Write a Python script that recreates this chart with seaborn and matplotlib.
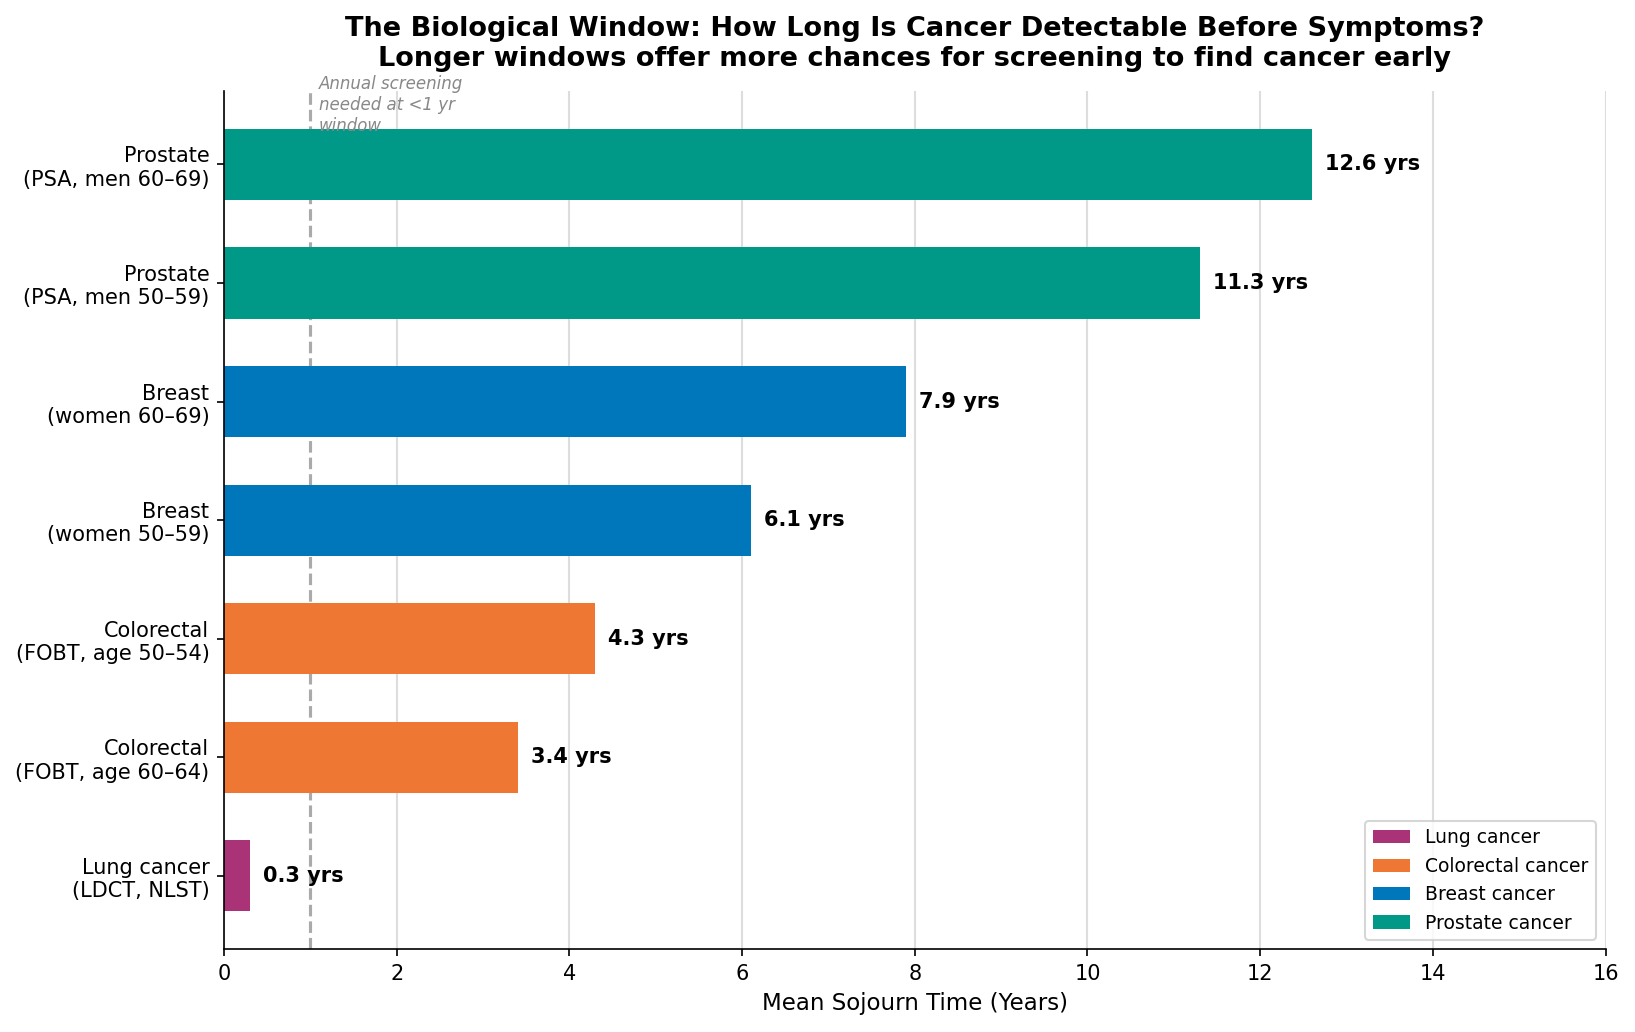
import matplotlib
matplotlib.use("Agg")
import matplotlib.pyplot as plt
import pandas as pd
import seaborn as sns

# data, top to bottom as drawn
labels = ['Prostate\n(PSA, men 60–69)', 'Prostate\n(PSA, men 50–59)',
          'Breast\n(women 60–69)', 'Breast\n(women 50–59)',
          'Colorectal\n(FOBT, age 50–54)', 'Colorectal\n(FOBT, age 60–64)',
          'Lung cancer\n(LDCT, NLST)']
years = [12.6, 11.3, 7.9, 6.1, 4.3, 3.4, 0.3]
groups = ['Prostate cancer', 'Prostate cancer', 'Breast cancer', 'Breast cancer',
          'Colorectal cancer', 'Colorectal cancer', 'Lung cancer']
group_order = ['Lung cancer', 'Colorectal cancer', 'Breast cancer', 'Prostate cancer']
colors = {'Lung cancer': '#AA3377', 'Colorectal cancer': '#EE7733',
          'Breast cancer': '#0077BB', 'Prostate cancer': '#009988'}

df = pd.DataFrame({'label': labels, 'years': years, 'group': groups})

plt.rcParams['font.family'] = ['DejaVu Sans']

fig, ax = plt.subplots(figsize=(10.9, 6.88), dpi=150)
sns.barplot(data=df, x='years', y='label', hue='group', hue_order=group_order,
            palette=colors, order=labels, dodge=False, width=0.6,
            saturation=1, ax=ax)

for i, v in enumerate(years):
    ax.text(v + 0.15, i, f'{v} yrs', va='center', ha='left',
            fontsize=10, fontweight='bold')

ax.axvline(1, color='#aaaaaa', linestyle='--', linewidth=1.5, zorder=0)
ax.text(1.1, -0.75, 'Annual screening\nneeded at <1 yr\nwindow', fontsize=8,
        style='italic', color='#888888', va='top', ha='left')

ax.set_xlim(0, 16)
ax.set_ylim(6.62, -0.62)
ax.xaxis.grid(True, color='#dddddd', linewidth=1)
ax.set_axisbelow(True)
sns.despine(ax=ax)
ax.tick_params(axis='both', labelsize=10)
ax.set_ylabel('')
ax.set_xlabel('Mean Sojourn Time (Years)', fontsize=11)
ax.set_title('The Biological Window: How Long Is Cancer Detectable Before Symptoms?\n'
             'Longer windows offer more chances for screening to find cancer early',
             fontsize=13, fontweight='bold', pad=12)
ax.legend(loc='lower right', fontsize=9, title=None)

plt.subplots_adjust(left=0.137, right=0.982, top=0.912, bottom=0.08)
plt.savefig('out.png', dpi=150)
